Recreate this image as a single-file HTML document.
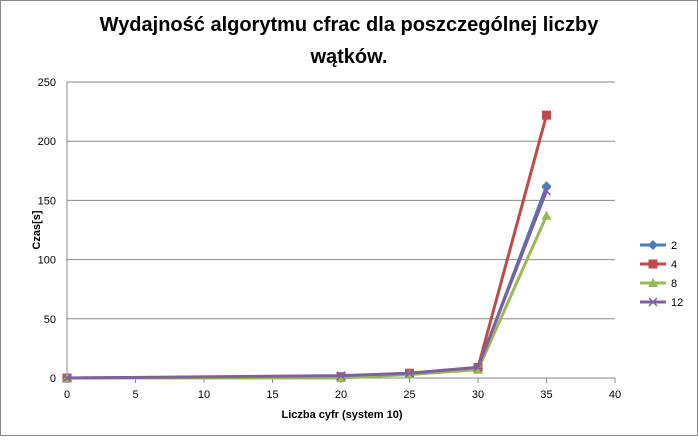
<!DOCTYPE html>
<html><head><meta charset="utf-8"><style>
body{margin:0;background:#fff;font-family:"Liberation Sans",sans-serif;}
svg text{font-family:"Liberation Sans",sans-serif;}
</style></head><body>
<svg width="698" height="436">
<rect x="0.5" y="0.5" width="697" height="435" fill="#fff" stroke="#888"/>
<text x="349" y="31" text-anchor="middle" font-size="20" font-weight="bold">Wydajność algorytmu cfrac dla poszczególnej liczby</text>
<text x="349" y="63" text-anchor="middle" font-size="20" font-weight="bold">wątków.</text>
<g id="grid"></g><g id="axes"></g><g id="series"></g><g id="legend"></g>
<text x="342" y="418" text-anchor="middle" font-size="11" font-weight="bold">Liczba cyfr (system 10)</text>
<text transform="translate(40,230) rotate(-90)" text-anchor="middle" font-size="11" font-weight="bold">Czas[s]</text>
</svg>
<script>
const xTicks=[0,5,10,15,20,25,30,35,40];
const yTicks=[0,50,100,150,200,250];
const xVals=[0,20,25,30,35];
const s2=[0,1,3,8,162];
const s4=[0,1,4,9,222];
const s8=[0,0,3,7,137];
const s12=[0,2,4,9,158];
const names=['2','4','8','12'];
const colors=['#4a7ebb','#be4b48','#98b954','#7d60a0'];
const X=v=>67+v*(548/40), Y=v=>378-v*(296/250);
const NS='http://www.w3.org/2000/svg';
function mk(t,a,p){const e=document.createElementNS(NS,t);for(const k in a)e.setAttribute(k,a[k]);document.getElementById(p).appendChild(e);return e;}
yTicks.forEach(v=>{
 const l=mk('line',{x1:67,x2:615,y1:Y(v),y2:Y(v),stroke:v?'#888':'#888','stroke-width':1},'grid');
 
 
 const t=mk('text',{x:56,y:Y(v)+4,'text-anchor':'end','font-size':11},'axes');t.textContent=v;
 
 
});
xTicks.forEach(v=>{
 const t=mk('text',{x:X(v),y:398,'text-anchor':'middle','font-size':11},'axes');t.textContent=v;
 
 
 const k=mk('line',{x1:X(v),x2:X(v),y1:378,y2:383,stroke:'#888'},'axes');
 
 
});
const ax=mk('line',{x1:67,x2:67,y1:82,y2:378,stroke:'#888'},'axes');


function marker(i,x,y,p){
 const c=colors[i];let e;
 if(i==0)e=mk('polygon',{points:`${x},${y-5} ${x+5},${y} ${x},${y+5} ${x-5},${y}`,fill:c},p);
 else if(i==1)e=mk('rect',{x:x-4.5,y:y-4.5,width:9,height:9,fill:c},p);
 else if(i==2)e=mk('polygon',{points:`${x},${y-5} ${x+5},${y+4} ${x-5},${y+4}`,fill:c},p);
 else e=mk('path',{d:`M${x-4},${y-4}L${x+4},${y+4}M${x-4},${y+4}L${x+4},${y-4}`,stroke:c,'stroke-width':1.5},p);
 return e;
}
[s2,s4,s8,s12].forEach((s,i)=>{
 const pl=mk('polyline',{points:s.map((v,j)=>X(xVals[j])+','+Y(v)).join(' '),fill:'none',stroke:colors[i],'stroke-width':3},'series');
 
 
 s.forEach((v,j)=>{const m=marker(i,X(xVals[j]),Y(v),'series');
  
  });
 const y=245+i*19;
 const ll=mk('line',{x1:640,x2:666,y1:y,y2:y,stroke:colors[i],'stroke-width':3},'legend');
 
 
 const lm=marker(i,653,y,'legend');
 
 
 const t=mk('text',{x:671,y:y+4,'font-size':11},'legend');t.textContent=names[i];
 
 
});
</script>
</body></html>
